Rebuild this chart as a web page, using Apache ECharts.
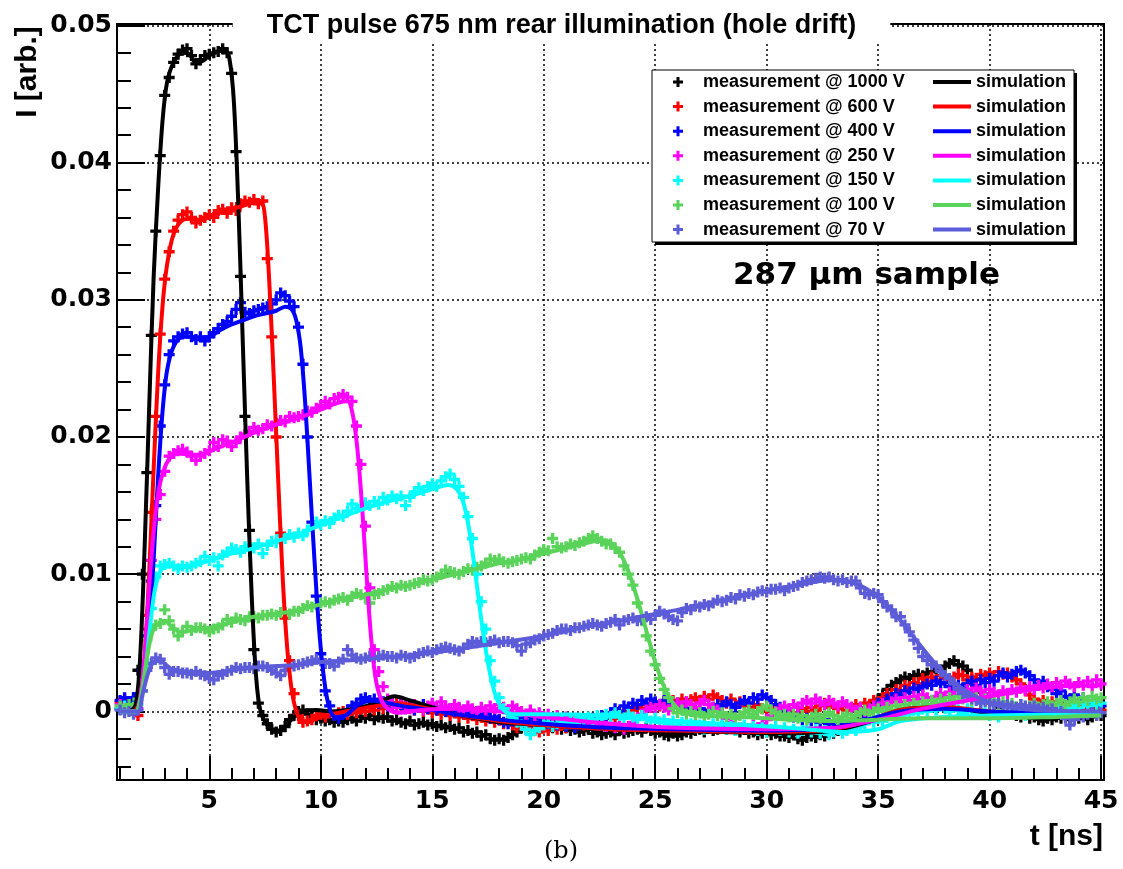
<!DOCTYPE html>
<html><head><meta charset="utf-8">
<script src="https://cdn.jsdelivr.net/npm/echarts@6/dist/echarts.min.js"></script>
<style>html,body{margin:0;padding:0;background:#fff}#c{width:1123px;height:869px}</style>
</head><body><div id="c"></div>
<script>
// sample times of the measurements: 1.0 ns ... 45.0 ns, every 0.2 ns
const T_START = 1.0, T_STEP = 0.2, N_SAMPLES = 221;
const tMeas = Array.from({length: N_SAMPLES}, (_, i) => +(T_START + T_STEP * i).toFixed(1));
const UNIT = 1e-3; // values below are in units of 0.001 arb.

const labelsMeas = ['measurement @ 1000 V','measurement @ 600 V','measurement @ 400 V','measurement @ 250 V','measurement @ 150 V','measurement @ 100 V','measurement @ 70 V'];
const labelsSim = ['sim 1000 V','sim 600 V','sim 400 V','sim 250 V','sim 150 V','sim 100 V','sim 70 V'];
const colors = ['#000000','#ff0000','#0000ff','#ff00ff','#00ffff','#59d359','#5c5cd8'];

// ---- measurements (one group = 1 ns, 5 samples) ----
const meas1000 = [
0.2,0.3,0.5,0.8,3.0, 10.0,17.4,27.4,35.0,40.5, 44.9,46.2,47.3,47.9,48.2, 48.3,47.8,47.2,47.5,47.8,
47.9,48.0,48.1,48.3,48.0, 46.5,40.8,31.7,21.5,13.2, 4.5,0.6,-0.3,-0.9,-1.3, -1.5,-1.4,-1.1,-0.6,-0.3,
0.0,0.1,-0.2,-0.4,-0.6, -0.5,-0.7,-0.6,-0.8,-0.7, -0.8,-0.6,-0.5,-0.7,-0.4, -0.5,-0.3,-0.6,-0.4,-0.5,
-0.4,-0.7,-0.6,-0.8,-0.9, -0.7,-1.0,-0.9,-0.8,-1.0, -0.9,-1.1,-1.0,-1.2,-1.1, -1.3,-1.2,-1.5,-1.4,-1.6,
-1.5,-1.8,-1.7,-2.0,-2.1, -2.0,-2.1,-1.9,-1.7,-1.5, -1.2,-1.0,-1.1,-0.9,-1.0, -1.1,-0.9,-1.2,-1.0,-1.3,
-1.2,-1.4,-1.3,-1.5,-1.4, -1.3,-1.6,-1.5,-1.7,-1.6, -1.5,-1.7,-1.4,-1.6,-1.5, -1.4,-1.3,-1.5,-1.2,-1.4,
-1.6,-1.5,-1.7,-1.8,-1.6, -1.8,-1.7,-1.5,-1.6,-1.4, -1.3,-1.5,-1.2,-1.4,-1.3, -1.1,-1.3,-1.2,-1.4,-1.5,
-1.3,-1.6,-1.5,-1.7,-1.6, -1.5,-1.7,-1.6,-1.8,-1.8, -1.9,-1.7,-2.0,-2.1,-1.9, -1.8,-1.9,-1.7,-1.8,-1.6,
-1.6,-1.4,-1.3,-1.1,-0.9, -0.7,-0.4,-0.1,0.3,0.6, 0.9,1.2,1.6,1.9,2.1, 2.3,2.5,2.4,2.6,2.7,
2.6,2.8,2.9,3.1,3.0, 3.3,3.5,3.7,3.4,3.3, 3.0,2.3,1.8,1.4,1.0, 0.8,0.5,0.3,0.0,-0.2,
-0.1,-0.3,-0.4,-0.2,-0.5, -0.4,-0.6,-0.7,-0.5,-0.6, -0.4,-0.5,-0.3,-0.6,-0.4, -0.5,-0.3,-0.6,-0.4,-0.2,
-0.3];
const meas600 = [
0.7,0.9,0.5,0.3,-0.3, 1.5,7.0,14.5,21.5,27.5, 31.5,33.5,35.0,35.8,36.2, 36.4,36.0,35.6,35.8,36.0,
36.2,36.0,36.5,36.6,36.3, 36.7,36.5,37.0,37.2,37.1, 37.3,37.0,37.2,33.0,27.3, 20.0,13.0,6.8,3.7,1.3,
-0.3,-0.8,-0.7,-0.6,-0.3, -0.2,-0.4,0.0,-0.3,-0.1, 0.0,-0.2,0.1,-0.1,0.2, 0.0,0.3,0.1,0.4,0.2,
0.5,0.3,0.6,0.4,0.2, 0.4,0.1,0.3,0.0,0.2, -0.1,0.1,-0.2,0.0,-0.3, -0.1,-0.4,-0.2,-0.5,-0.3,
-0.6,-0.4,-0.7,-0.5,-0.8, -0.6,-0.9,-0.7,-1.0,-1.2, -1.0,-1.3,-1.1,-1.4,-1.5, -1.2,-1.4,-1.1,-1.3,-1.0,
-1.2,-0.9,-1.1,-0.8,-1.0, -0.7,-0.9,-0.6,-0.8,-0.5, -0.3,-0.5,-0.2,0.0,-0.2, 0.1,0.3,0.2,0.5,0.3,
0.6,0.4,0.7,0.5,0.8, 0.6,0.9,0.7,0.85,1.0, 0.8,1.1,0.9,1.2,1.0, 0.8,0.6,0.9,0.5,0.7,
0.4,0.6,0.3,0.5,0.2, 0.0,0.3,-0.1,0.1,-0.2, 0.0,-0.3,-0.1,0.2,0.0, 0.3,0.1,0.4,0.6,0.3,
0.5,0.2,0.4,0.1,0.3, 0.5,0.2,0.6,0.4,0.8, 0.7,1.0,1.3,1.2,1.6, 1.5,1.9,1.7,2.1,2.0,
2.4,2.2,2.5,2.3,2.6, 2.4,2.2,2.5,2.7,2.6, 2.3,2.5,2.4,2.7,2.6, 2.8,2.6,2.9,2.7,2.8,
2.5,2.3,2.0,1.6,1.2, 0.9,0.6,0.8,0.5,0.7, 0.4,0.6,0.3,0.5,0.2, 0.4,0.1,0.3,0.0,0.2,
0.1];
const meas400 = [
0.8,1.0,0.7,1.0,1.3, 3.0,5.5,9.5,15.0,20.8, 23.8,26.0,27.0,27.3,27.5, 27.6,27.3,27.1,27.3,27.0,
27.3,27.6,27.9,28.2,28.4, 28.8,29.3,29.8,29.1,29.0, 29.2,29.3,29.4,29.5,29.7, 30.0,30.5,30.3,29.9,29.5,
28.0,25.3,20.0,13.8,8.4, 4.2,1.5,0.4,-0.3,-0.5, -0.2,0.1,0.4,0.6,0.9, 1.0,0.8,0.9,0.6,0.7,
0.4,0.6,0.3,0.5,0.2, 0.4,0.1,0.3,0.5,0.2, 0.4,0.1,0.3,0.0,0.2, 0.0,0.2,-0.1,0.1,-0.2,
0.0,-0.3,-0.2,-0.5,-0.4, -0.6,-0.8,-0.9,-0.7,-0.5, -0.6,-0.4,-0.7,-0.5,-0.8, -0.6,-0.9,-0.7,-1.0,-0.8,
-1.1,-0.9,-1.2,-1.0,-0.7, -0.8,-0.5,-0.6,-0.3,-0.4, -0.1,0.2,0.0,0.4,0.3, 0.6,0.5,0.8,0.6,0.9,
0.7,0.5,0.8,0.6,0.4, 0.6,0.3,0.5,0.2,0.0, 0.2,-0.1,0.1,0.3,0.5, 0.4,0.7,0.5,0.3,0.6,
0.8,0.6,1.0,0.9,1.2, 1.0,0.8,0.5,0.3,0.0, -0.2,-0.4,-0.3,-0.6,-0.5, -0.7,-0.5,-0.8,-0.6,-0.9,
-0.7,-1.0,-0.8,-1.1,-0.9, -1.0,-0.7,-0.4,0.0,0.3, 0.6,0.5,0.9,1.0,1.3, 1.2,1.5,1.4,1.7,1.6,
1.8,2.0,1.9,2.2,2.0, 2.1,1.8,1.6,1.9,1.7, 2.0,2.2,1.9,2.3,2.1, 2.4,2.2,2.6,2.8,2.5,
2.7,2.9,3.0,2.8,2.6, 2.3,2.0,2.2,1.8,1.6, 1.3,1.5,1.1,0.9,1.2, 0.8,1.0,0.7,0.5,0.6,
0.4];
const meas250 = [
0.5,0.3,0.2,0.0,0.2, 2.5,6.0,11.0,14.0,15.8, 17.5,18.6,18.8,19.0,19.1, 18.9,18.6,18.3,18.6,18.8,
19.0,19.6,19.3,19.8,19.7, 19.3,19.6,20.0,20.2,20.4, 20.7,20.5,20.6,20.9,20.8, 21.0,21.2,21.1,21.5,21.4,
21.5,21.6,21.9,21.8,22.1, 22.3,22.6,22.4,22.8,22.9, 23.1,22.9,22.6,20.8,18.0, 13.5,9.0,4.5,2.9,1.8,
0.9,0.5,0.3,0.6,0.4, 0.2,0.5,0.3,0.1,0.4, 0.6,0.3,0.7,0.4,0.2, 0.5,0.3,0.1,0.4,0.2,
0.0,0.3,0.1,0.4,0.2, 0.5,0.3,0.1,0.4,0.2, 0.0,-0.2,0.1,-0.3,-0.1, -0.4,-0.2,-0.5,-0.3,-0.6,
-0.4,-0.7,-0.5,-0.8,-0.6, -0.9,-0.7,-1.0,-0.8,-1.1, -0.9,-1.2,-1.0,-1.3,-1.1, -0.8,-0.5,-0.2,0.1,0.3,
0.2,0.5,0.3,0.1,0.4, 0.6,0.4,0.7,0.5,0.3, 0.6,0.8,0.5,0.3,0.1, -0.2,-0.5,-0.8,-1.0,-1.2,
-1.1,-1.3,-1.0,-1.2,-0.9, -0.6,-0.3,0.0,0.2,0.4, 0.2,0.5,0.3,0.6,0.8, 0.6,0.9,0.7,0.5,0.8,
0.6,0.4,0.7,0.5,0.3, 0.1,0.3,0.0,0.2,0.4, 0.3,0.6,0.4,0.7,0.9, 0.7,1.0,0.8,1.1,0.9,
1.2,1.0,0.8,1.1,1.3, 1.1,1.4,1.2,1.5,1.3, 1.6,1.4,1.7,1.5,1.3, 1.6,1.4,1.2,1.5,1.3,
1.6,1.4,1.7,1.5,1.8, 1.6,1.9,1.7,2.0,1.8, 2.1,1.9,2.2,2.0,1.8, 2.1,1.9,2.2,1.8,2.3,
2.0];
const meas150 = [
0.2,0.4,0.1,0.3,0.5, 1.5,3.5,7.5,9.8,10.6, 10.7,10.8,10.6,10.4,10.6, 10.5,10.6,10.8,10.9,11.3,
11.0,11.2,10.6,11.4,11.6, 11.9,11.8,11.6,12.0,12.1, 11.9,12.2,11.5,12.1,12.4, 12.3,12.8,12.6,12.9,12.7,
13.0,12.8,13.2,13.5,13.8, 13.6,13.9,13.7,14.1,14.3, 14.2,14.6,15.1,14.8,15.0, 15.2,15.0,15.3,15.1,15.6,
15.4,15.7,15.5,15.7,15.0, 15.6,16.0,16.3,16.1,16.4, 16.6,16.4,16.8,17.1,17.3, 16.9,16.4,15.6,14.2,12.6,
10.0,8.0,6.0,3.7,2.2, 1.0,0.2,-0.1,-0.5,-0.8, -1.0,-1.3,-1.7,-1.4,-1.2, -1.0,-0.8,-1.1,-0.9,-0.7,
-0.9,-0.6,-0.8,-0.5,-0.7, -0.4,-0.6,-0.3,-0.5,-0.2, -0.4,-0.1,-0.3,-0.5,-0.2, -0.4,-0.6,-0.3,-0.5,-0.7,
-0.5,-0.8,-0.6,-0.9,-0.7, -1.0,-0.8,-1.1,-0.9,-1.2, -1.0,-1.3,-1.1,-0.9,-1.2, -1.0,-1.3,-1.1,-1.4,-1.2,
-1.0,-1.3,-1.1,-1.4,-1.2, -1.5,-1.3,-1.1,-1.4,-1.2, -1.5,-1.3,-1.6,-1.4,-1.2, -1.5,-1.3,-1.6,-1.4,-1.7,
-1.5,-1.3,-1.6,-1.4,-1.2, -1.4,-1.1,-0.9,-0.6,-0.8, -0.5,-0.7,-0.4,-0.2,-0.5, -0.3,0.0,-0.2,0.1,-0.1,
0.2,0.0,0.3,0.1,0.4, 0.2,0.0,0.3,0.1,-0.1, 0.2,0.0,-0.2,0.1,-0.1, -0.3,-0.1,-0.4,-0.2,0.0,
-0.2,0.1,-0.1,-0.3,0.0, 0.2,-0.1,0.1,0.3,0.0, 0.2,0.4,0.1,0.3,0.5, 0.3,0.6,0.4,0.7,0.5,
0.6];
const meas100 = [
0.4,0.2,0.5,0.3,0.9, 2.5,5.2,6.0,6.3,6.4, 7.4,6.6,6.0,5.5,5.8, 6.2,5.9,6.1,6.1,6.0,
5.8,6.0,6.1,6.3,6.7, 6.5,6.8,6.7,6.6,6.9, 6.9,6.8,7.0,7.0,7.1, 7.0,7.2,7.2,7.1,7.3,
7.3,7.5,7.7,7.6,7.8, 7.9,8.0,7.9,8.1,8.2, 8.3,8.1,8.4,8.6,8.5, 8.3,7.9,8.5,8.6,8.8,
8.9,9.1,9.0,9.2,9.1, 9.2,9.3,9.4,9.6,9.5, 9.6,9.8,10.0,10.3,10.2, 10.1,10.0,10.2,10.4,10.3,
10.5,10.6,10.8,11.1,11.0, 11.1,10.9,10.8,10.9,11.0, 11.1,11.2,11.1,11.4,11.6, 11.8,11.7,12.6,12.0,11.9,
12.0,12.2,12.1,12.3,12.4, 12.6,12.8,12.6,12.4,12.2, 12.2,11.9,11.6,10.6,10.0, 9.2,7.9,6.6,5.5,4.4,
3.4,2.4,1.6,1.0,0.2, -0.1,0.1,-0.2,0.0,-0.3, -0.1,-0.4,-0.2,0.0,-0.3, -0.1,-0.4,-0.2,-0.5,-0.3,
-0.1,0.1,-0.2,0.0,0.2, 0.4,0.1,-0.1,-0.3,-0.2, -0.4,-0.2,-0.5,-0.3,-0.6, -0.4,-0.2,-0.5,-0.3,-0.1,
-0.3,-0.6,-0.4,-0.2,-0.5, -0.3,-0.1,0.1,-0.2,0.0, 0.2,0.0,0.3,0.1,0.4, 0.2,0.5,0.3,0.6,0.4,
0.7,0.5,0.8,0.6,0.9, 0.7,1.0,0.8,1.1,0.9, 1.1,0.8,1.0,0.7,0.9, 0.6,0.8,0.5,0.7,0.4,
0.6,0.3,0.5,0.2,0.4, 0.6,0.3,0.5,0.7,0.4, 0.6,0.8,0.5,0.7,0.9, 0.7,1.0,0.8,1.1,0.9,
1.0];
const meas70 = [
0.1,-0.1,0.0,-0.2,0.1, 1.5,3.0,3.5,3.9,3.8, 3.2,2.7,2.9,2.9,2.8, 2.8,2.7,2.9,2.7,2.6,
2.4,2.3,2.6,2.7,2.9, 3.0,3.2,3.1,3.2,3.2, 3.1,3.3,3.3,3.2,3.0, 2.8,2.6,3.0,3.2,3.3,
3.4,3.5,3.6,3.7,3.8, 3.7,3.5,3.5,3.3,3.6, 3.8,4.5,4.1,3.9,3.8, 3.9,4.0,3.9,4.0,4.1,
4.0,4.0,3.9,4.1,4.0, 3.9,4.0,4.2,4.3,4.4, 4.3,4.5,4.6,4.7,4.6, 4.5,4.4,4.6,4.9,5.1,
5.0,5.1,5.0,5.1,5.2, 5.0,5.1,5.1,5.0,4.8, 4.4,4.9,5.0,5.2,5.3, 5.5,5.6,5.7,5.9,6.0,
6.0,5.9,6.1,6.1,6.2, 6.3,6.4,6.3,6.2,6.4, 6.5,6.7,6.3,6.6,6.7, 6.8,6.6,6.7,6.9,6.7,
7.0,7.3,7.1,6.9,6.7, 6.6,7.2,7.5,7.4,7.7, 7.6,7.8,7.7,7.9,8.1, 8.0,8.1,8.3,8.2,8.5,
8.4,8.6,8.5,8.7,8.8, 8.7,8.9,8.9,9.0,8.8, 9.0,9.1,9.2,9.4,9.5, 9.6,9.7,9.8,9.7,9.8,
9.6,9.5,9.6,9.4,9.5, 9.5,9.0,8.6,8.5,8.6, 8.5,8.0,7.6,7.4,6.9, 6.9,6.3,5.8,5.2,4.6,
4.0,3.7,3.4,3.3,2.9, 2.6,2.4,2.0,1.6,1.3, 1.1,0.9,0.8,0.6,0.7, 0.6,0.5,0.6,0.4,0.5,
0.4,0.3,0.5,0.4,0.3, 0.4,0.2,0.3,0.1,0.2, -0.1,0.0,-0.5,-1.0,-0.6, -0.3,-0.4,-0.2,-0.1,-0.3,
-0.1];

// ---- simulations: [t (ns), value (0.001 arb.)] ----
const sim1000 = [[1,0],[1.4,0],[1.7,0.5],[1.9,4],[2.1,12],[2.3,22],[2.5,31.5],[2.7,38],[2.9,43],[3.1,45.8],[3.4,47.3],[3.8,48.0],[4.1,47.9],[4.4,47.3],[4.7,47.4],[5.0,47.8],[5.4,48.1],[5.7,48.2],[5.9,47.6],[6.1,44.5],[6.3,37],[6.5,27],[6.7,17],[6.9,8.5],[7.1,2.5],[7.3,0],[7.6,-1.0],[7.9,-1.4],[8.2,-1.4],[8.5,-0.9],[8.8,-0.4],[9.2,0],[9.8,0.1],[10.5,0.0],[11.5,0.2],[12.5,0.6],[13.3,1.1],[14,0.8],[15,0.3],[16,-0.2],[17,-0.5],[18,-0.8],[20,-1.0],[22,-1.2],[25,-1.4],[28,-1.5],[31,-1.6],[33,-1.4],[34.5,-0.8],[36,0.1],[38,0.3],[40,-0.1],[42,-0.2],[45,-0.2]];
const sim600 = [[1,0],[1.6,0],[1.9,1],[2.1,4],[2.3,10],[2.5,17.5],[2.7,24.5],[2.9,29.5],[3.1,32.5],[3.4,34.8],[3.8,35.8],[4.2,35.9],[4.6,35.8],[5.2,36.2],[6.0,36.6],[6.8,37.0],[7.3,37.2],[7.5,36],[7.7,31],[7.9,24],[8.1,16.5],[8.3,9.5],[8.5,4.5],[8.7,1.5],[8.9,0],[9.1,-0.6],[9.4,-0.8],[9.8,-0.5],[10.5,-0.2],[11.5,0.1],[12.5,0.4],[13.5,0.6],[14.5,0.3],[16,-0.2],[18,-0.7],[20,-1.0],[23,-1.3],[26,-1.4],[30,-1.5],[33,-1.3],[34.5,-0.7],[36,0.1],[38,0.3],[40,0.0],[42,-0.2],[45,-0.2]];
const sim400 = [[1,0],[1.7,0],[1.9,1],[2.1,2.5],[2.3,6],[2.5,11],[2.7,17],[2.9,21.8],[3.1,24.8],[3.4,26.6],[3.8,27.3],[4.2,27.3],[4.6,27.2],[5.0,27.3],[5.5,27.8],[6.0,28.2],[6.5,28.5],[7.0,28.8],[7.5,29.0],[8.0,29.2],[8.4,29.5],[8.7,29.3],[8.9,28.5],[9.1,26.5],[9.3,22.5],[9.5,17],[9.7,11.5],[9.9,6.5],[10.1,3.0],[10.3,0.8],[10.5,-0.2],[10.8,-0.5],[11.2,-0.2],[11.7,0.5],[12.3,0.8],[13,0.6],[14,0.3],[15,0.1],[16,-0.2],[18,-0.6],[20,-0.9],[23,-1.2],[26,-1.3],[30,-1.4],[33,-1.2],[34.5,-0.6],[36,0.0],[38,0.2],[40,0.0],[42,-0.1],[45,-0.2]];
const sim250 = [[1,0],[1.7,0],[1.9,1],[2.1,4],[2.3,9],[2.5,13],[2.7,15.8],[2.9,17.3],[3.2,18.4],[3.6,18.8],[4.2,18.7],[4.6,18.7],[5.2,19.1],[6.0,19.6],[7.0,20.3],[8.0,20.9],[9.0,21.4],[10.0,22.0],[10.8,22.5],[11.2,22.6],[11.45,21.5],[11.65,19],[11.85,15],[12.05,10],[12.25,5.5],[12.45,2.5],[12.7,0.9],[13,0.2],[13.5,-0.1],[14.5,0.1],[16,0.2],[18,0.0],[20,-0.4],[23,-0.9],[26,-1.2],[30,-1.3],[33,-1.2],[35,-0.6],[37,0.2],[39,0.8],[41,1.4],[43,1.8],[45,1.9]];
const sim150 = [[1,0],[1.7,0],[1.9,0.8],[2.1,2.5],[2.3,5.5],[2.5,8.3],[2.7,9.8],[2.9,10.4],[3.3,10.6],[4,10.6],[5,11.0],[6,11.5],[7,11.9],[8,12.4],[9,12.9],[10,13.6],[11,14.2],[12,14.8],[13,15.3],[14,15.7],[15,16.2],[15.7,16.5],[16.1,16.2],[16.4,15.2],[16.65,13.3],[16.9,10.5],[17.15,7.3],[17.4,4.5],[17.65,2.3],[17.9,0.9],[18.2,0.1],[18.6,-0.2],[20,-0.2],[22.5,-0.3],[25,-0.6],[28,-0.9],[31,-1.2],[33.5,-1.5],[35,-1.3],[36,-0.7],[38,-0.4],[40,-0.3],[45,-0.2]];
const sim100 = [[1,0],[1.7,0],[1.9,0.8],[2.1,2.8],[2.3,4.8],[2.5,6.0],[2.8,6.5],[3.0,6.6],[3.3,6.2],[3.7,5.8],[4.2,5.9],[5,6.1],[6,6.5],[7,6.9],[8,7.1],[9,7.4],[10,7.8],[11,8.2],[12,8.5],[13,8.9],[14,9.2],[15,9.6],[16,10.0],[17,10.4],[18,10.8],[19,11.1],[20,11.5],[21,11.9],[22,12.3],[22.6,12.5],[23.0,12.3],[23.4,11.6],[23.8,10.2],[24.2,8.2],[24.6,5.9],[25.0,3.6],[25.4,1.8],[25.8,0.6],[26.2,0],[27,-0.3],[29,-0.4],[31,-0.6],[33,-0.7],[35,-0.6],[37,-0.5],[40,-0.5],[43,-0.4],[45,-0.3]];
const sim70 = [[1,0],[1.8,0],[2.0,1.2],[2.3,3.0],[2.6,3.7],[2.9,3.6],[3.3,3.1],[4,2.9],[5,2.8],[6,3.0],[7,3.2],[8,3.3],[9,3.4],[10,3.6],[12,3.8],[14,4.1],[16,4.5],[18,5.0],[20,5.5],[22,6.2],[24,6.8],[26,7.4],[28,8.1],[30,8.8],[32,9.4],[33,9.6],[33.8,9.4],[34.5,8.9],[35.5,7.6],[36.5,5.6],[37.5,3.6],[38.5,2.0],[39.5,1.0],[40.5,0.4],[42,0.1],[45,0.0]];

const measAll = [meas1000, meas600, meas400, meas250, meas150, meas100, meas70];
const simAll = [sim1000, sim600, sim400, sim250, sim150, sim100, sim70];
measAll.forEach((a, k) => { if (a.length !== N_SAMPLES) console.error('length', k, a.length); });

const PLUS = 'path://M3.5,0H6.5V3.5H10V6.5H6.5V10H3.5V6.5H0V3.5H3.5Z';
const series = [];
measAll.forEach((vals, k) => {
  series.push({
    type: 'scatter', name: labelsMeas[k], symbol: PLUS, symbolSize: 11, symbolKeepAspect: true,
    itemStyle: {color: colors[k], opacity: 1}, silent: true,
    data: vals.map((v, i) => [tMeas[i], v * UNIT])
  });
});
simAll.forEach((pts, k) => {
  series.push({
    type: 'line', name: labelsSim[k], symbol: 'none', showSymbol: false, smooth: 0.3,
    lineStyle: {color: colors[k], width: 4}, itemStyle: {color: colors[k]}, silent: true,
    data: pts.map(p => [p[0], p[1] * UNIT])
  });
});

const chart = echarts.init(document.getElementById('c'), null, {renderer: 'canvas'});
const tickFont = {fontFamily: 'DejaVu Sans', fontWeight: 'bold', fontSize: 25, color: '#000'};
const legendText = {fontFamily: 'Liberation Sans', fontWeight: 'bold', fontSize: 18, lineHeight: 20, color: '#000'};
chart.setOption({
  animation: false,
  backgroundColor: '#fff',
  title: {
    text: 'TCT pulse 675 nm rear illumination (hole drift)', left: 'center', top: 8,
    backgroundColor: '#fff', padding: [4, 34, 4, 34],
    textStyle: {fontFamily: 'Liberation Sans', fontWeight: 'bold', fontSize: 27, color: '#000'}
  },
  grid: {left: 117, right: 19, top: 24, bottom: 89, show: true, borderColor: '#000', borderWidth: 2, outerBoundsMode: 'none'},
  xAxis: {
    type: 'value', min: 0.86, max: 45.13, splitNumber: 9,
    axisLine: {show: true, onZero: false, lineStyle: {color: '#000', width: 2}},
    axisTick: {inside: true, length: 24, lineStyle: {color: '#000', width: 2}},
    minorTick: {show: true, splitNumber: 5, length: 12, lineStyle: {color: '#000', width: 2}},
    splitLine: {show: true, lineStyle: {color: '#000', type: [2, 3], width: 1.5}},
    axisLabel: Object.assign({margin: 9, showMinLabel: false, showMaxLabel: false}, tickFont)
  },
  yAxis: {
    type: 'value', min: -0.005, max: 0.0501,
    axisLine: {show: true, lineStyle: {color: '#000', width: 2}},
    axisTick: {inside: true, length: 28, lineStyle: {color: '#000', width: 2}},
    minorTick: {show: true, splitNumber: 5, length: 14, lineStyle: {color: '#000', width: 2}},
    splitLine: {show: true, lineStyle: {color: '#000', type: [2, 3], width: 1.5}},
    axisLabel: Object.assign({margin: 5, showMinLabel: false, showMaxLabel: false}, tickFont)
  },
  legend: [
    {data: labelsMeas, left: 668, top: 67, orient: 'vertical', itemWidth: 40, itemHeight: 10, itemGap: 4.6,
     selectedMode: false, z: 10, symbolKeepAspect: true, itemStyle: {opacity: 1}, textStyle: legendText},
    {data: labelsSim, left: 928, top: 67, orient: 'vertical', icon: 'rect', itemWidth: 38, itemHeight: 4, itemGap: 4.6,
     selectedMode: false, z: 10, formatter: () => 'simulation', textStyle: legendText}
  ],
  graphic: [
    {type: 'rect', z: 8, shape: {x: 655, y: 73, width: 422, height: 172}, style: {fill: '#000'}, silent: true},
    {type: 'rect', z: 9, shape: {x: 652, y: 70, width: 422, height: 172}, style: {fill: '#fff', stroke: '#000', lineWidth: 1}, silent: true},
    {type: 'text', z: 9, x: 733, y: 276, style: {text: '287 µm sample', font: 'bold 31px "DejaVu Sans"', fill: '#000', verticalAlign: 'middle'}, silent: true},
    {type: 'text', z: 9, x: 28, y: 72, rotation: Math.PI / 2, style: {text: 'I [arb.]', font: 'bold 30px "Liberation Sans"', fill: '#000', align: 'center', verticalAlign: 'middle'}, silent: true},
    {type: 'text', z: 9, x: 1103, y: 837, style: {text: 't [ns]', font: 'bold 30px "Liberation Sans"', fill: '#000', align: 'right', verticalAlign: 'middle'}, silent: true},
    {type: 'text', z: 9, x: 561, y: 852, style: {text: '(b)', font: '24px "DejaVu Serif"', fill: '#000', align: 'center', verticalAlign: 'middle'}, silent: true}
  ],
  series: series
});
</script></body></html>
